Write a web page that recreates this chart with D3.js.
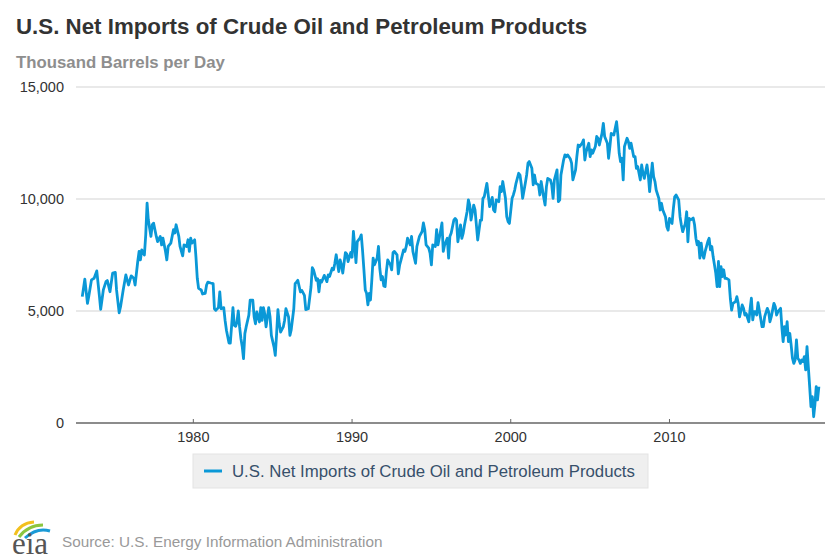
<!DOCTYPE html>
<html>
<head>
<meta charset="utf-8">
<script src="https://cdn.jsdelivr.net/npm/d3@7"></script>
<style>
  body { margin: 0; background: #fff; }
  svg { display: block; font-family: "Liberation Sans", Arial, Helvetica, sans-serif; }
</style>
</head>
<body>
<div id="chart"></div>
<script>
const chartTitle = "U.S. Net Imports of Crude Oil and Petroleum Products";
const unitsLabel = "Thousand Barrels per Day";
const seriesName = "U.S. Net Imports of Crude Oil and Petroleum Products";
const sourceText = "Source: U.S. Energy Information Administration";

const yTicks = [0, 5000, 10000, 15000];
const xTickYears = [1980, 1990, 2000, 2010];

// months counted from January 1973
const startYear = 1973;
const monthOffset = [
  0, 2, 4, 5, 7, 9, 11,
  13, 14, 16, 18, 19, 21, 23,
  25, 26, 28, 29, 31, 33, 35,
  37, 39, 40, 42, 43, 44, 45, 47,
  48, 49, 50, 52, 53, 54, 56, 57, 59,
  60, 61, 63, 64, 65, 67, 69, 70, 71,
  73, 74, 76, 77, 79, 80, 81, 82, 83,
  85, 86, 87, 88, 90, 91, 93, 94, 95,
  97, 99, 100, 101, 103, 104, 105, 107,
  108, 109, 111, 112, 113, 114, 115, 116, 117, 118, 119,
  120, 121, 122, 123, 124, 126, 127, 129, 130, 131,
  132, 134, 135, 136, 137, 138, 139, 141, 142, 143,
  145, 146, 147, 148, 149, 150, 152, 153, 154,
  156, 157, 158, 160, 161, 162, 163, 165, 166,
  168, 169, 171, 173, 174, 175, 177, 178, 179,
  180, 181, 183, 184, 185, 186, 187, 189, 190, 191,
  192, 194, 195, 196, 197, 199, 200, 201, 203,
  204, 205, 206, 207, 208, 210, 211, 212, 213, 214, 215,
  216, 217, 218, 219, 220, 221, 223, 224, 225, 226, 227,
  228, 229, 230, 231, 233, 234, 235, 236, 238, 239,
  240, 241, 243, 244, 245, 246, 248, 249, 250,
  252, 253, 254, 255, 257, 258, 259, 260, 262, 263,
  264, 265, 267, 268, 269, 270, 272, 273, 274,
  276, 277, 278, 279, 281, 282, 283, 284, 286, 287,
  288, 289, 291, 292, 293, 294, 296, 297, 298, 299,
  301, 302, 303, 304, 306, 307, 308, 310, 311,
  312, 313, 315, 316, 317, 318, 320, 321, 322, 323,
  325, 326, 327, 328, 330, 331, 332, 333, 335,
  336, 337, 338, 340, 341, 342, 343, 345, 346, 347,
  349, 350, 351, 352, 354, 355, 356, 357, 359,
  360, 361, 362, 364, 365, 366, 367, 369, 370, 371,
  373, 374, 375, 376, 378, 379, 380, 381, 383,
  384, 385, 386, 388, 389, 390, 391, 393, 394, 395,
  397, 398, 399, 400, 402, 403, 404, 405, 406, 407,
  408, 409, 410, 412, 413, 414, 415, 417, 418, 419,
  420, 422, 423, 424, 425, 427, 428, 429, 431,
  432, 433, 434, 436, 437, 438, 439, 441, 442, 443,
  444, 446, 447, 448, 449, 451, 452, 453, 454,
  456, 457, 458, 459, 460, 461, 462, 463, 464, 465, 466, 467,
  468, 469, 470, 471, 473, 474, 475, 476, 477, 478, 479,
  480, 481, 482, 483, 484, 485, 486, 487, 489, 490, 491,
  492, 494, 495, 496, 497, 499, 500, 501, 502, 504, 505, 506, 507, 508,
  509, 510, 511, 513, 514, 515, 516, 518, 519,
  520, 521, 523, 524, 525, 526, 528, 529, 530, 531,
  532, 533, 534, 535, 536, 537, 538, 539, 540, 541, 542, 543,
  544, 545, 546, 547, 548, 549, 550, 551, 552, 553, 554, 555, 556, 557
];
const netImports = [
  5640, 6420, 5340, 5670, 6390, 6460, 6790,
  5640, 5070, 5940, 6310, 6360, 5860, 6690,
  6720, 5940, 4920, 5190, 5940, 6610, 6160,
  6570, 6460, 6160, 7210, 7660, 7280, 7730, 7500,
  8400, 9820, 9070, 8330, 8850, 8920, 8330, 8100, 8330,
  7950, 8250, 7660, 7280, 7880, 8030, 8630, 8480, 8850,
  8330, 7880, 7460, 7950, 7880, 8180, 7660, 8250, 8030,
  8180, 7430, 6460, 6010, 5940, 5760, 5790, 6160, 6290,
  6250, 6220, 5100, 5030, 5150, 5850, 5100, 5150,
  4580, 4140, 3570, 3570, 4360, 5150, 4360, 4320, 4510, 5000, 4290,
  3760, 3390, 2870, 3990, 4290, 4810, 5480, 5480, 4730, 4430,
  4960, 4510, 5150, 4580, 5150, 4880, 4290, 5150, 4730, 3910,
  3390, 3020, 3990, 5060, 4430, 4060, 4290, 4580, 5100,
  4730, 3910, 4140, 5100, 6220, 6290, 6370, 5850, 5920,
  5700, 5060, 5100, 6070, 6930, 6820, 6370, 6440, 5850,
  6370, 6290, 6590, 6460, 6310, 6610, 6540, 6910, 6840, 7130,
  7510, 6760, 7280, 7060, 6690, 7610, 7550, 7210, 7610,
  7400, 8550, 7950, 7160, 8100, 8250, 8400, 7660, 6840, 5940, 5790,
  5270, 5790, 5490, 6390, 7360, 7060, 7360, 7880, 6910, 6390, 6540,
  6120, 6090, 6760, 7280, 7060, 6840, 7610, 7660, 7510, 6660,
  7060, 7280, 7730, 7660, 7880, 8250, 7950, 8330, 7660,
  7130, 7880, 8100, 8330, 8550, 8930, 8630, 7950, 7810, 7580,
  7060, 7950, 7880, 8630, 7950, 8250, 8930, 7660, 7950,
  8250, 7360, 8330, 8480, 9060, 9130, 9060, 8090, 8840, 8240,
  8460, 8840, 9430, 9960, 9730, 9060, 9730, 9510, 8840, 8170,
  9060, 9060, 10030, 10100, 10700, 10180, 9660, 10070, 9510,
  9430, 9960, 9880, 10550, 10330, 10780, 10030, 9210, 8990, 8910,
  10030, 10180, 10400, 10700, 11150, 11070, 10630, 10030, 10700,
  11070, 11600, 11670, 11370, 10630, 11070, 10700, 10630, 10180, 10780,
  10030, 9730, 10550, 10920, 10850, 10630, 10030, 10850, 11300,
  9880, 9960, 11070, 11740, 11970, 11890, 11970, 11800, 11600, 10850,
  11300, 11890, 12410, 12340, 12490, 12640, 11740, 12110, 12490,
  11890, 12190, 12040, 12340, 12790, 12710, 12410, 12930, 13380, 12790,
  12490, 11820, 12340, 12930, 12860, 13160, 13450, 12860, 12040, 11670,
  11820, 10850, 12340, 12710, 12560, 12260, 12490, 11890, 11890, 11370,
  11450, 10850, 11520, 11150, 10920, 11520, 11070, 10330, 11600,
  11000, 10780, 10400, 10030, 9510, 9810, 9510, 9210, 8760, 8610,
  9130, 8910, 9580, 10100, 10180, 9960, 9210, 8840, 8540,
  8910, 9430, 8090, 9130, 9070, 9100, 9150, 8850, 8250, 7950, 8100, 7360,
  8030, 7510, 7360, 7660, 8100, 8250, 7730, 7880, 7430, 7060, 6690,
  6090, 7210, 6090, 6980, 6540, 6840, 6460, 6460, 6390, 5570, 5040,
  5340, 5420, 5640, 5340, 4740, 5270, 5120, 4820, 4890, 4520, 5120, 5570, 4600, 4970,
  4970, 4820, 5370, 4670, 4300, 4300, 4750, 5120, 4970,
  4520, 4750, 5340, 5190, 4820, 4970, 5120, 4230, 3630, 4300,
  3930, 4520, 3630, 4000, 3480, 2890, 2660, 2810, 3710, 2890, 2810, 2660,
  2810, 2740, 2960, 2370, 3410, 2520, 1620, 730, 1180, 280, 800, 1620, 1030, 1620
];

const width = 840, height = 560;
const plot = { left: 76, right: 825, top: 87, bottom: 423 };
const lineColor = "#0a98d7";

const data = monthOffset.map((m, i) => ({ date: new Date(startYear, m, 1), value: netImports[i] }));

const svg = d3.select("#chart").append("svg")
  .attr("width", width)
  .attr("height", height);

const x = d3.scaleTime()
  .domain([new Date(1972, 7, 10), new Date(2019, 9, 20)])
  .range([plot.left, plot.right]);

const y = d3.scaleLinear()
  .domain([0, 15000])
  .range([plot.bottom, plot.top]);

// titles
svg.append("text")
  .attr("x", 16).attr("y", 34)
  .style("font-size", "22.3px").style("font-weight", "bold")
  .style("fill", "#333")
  .text(chartTitle);

svg.append("text")
  .attr("x", 16).attr("y", 68)
  .style("font-size", "16.8px").style("font-weight", "bold")
  .style("fill", "#8e8e8e")
  .text(unitsLabel);

// gridlines + y labels
const yAxis = svg.append("g").attr("class", "y-axis");
yAxis.selectAll("line")
  .data(yTicks.filter(d => d > 0))
  .join("line")
  .attr("x1", plot.left).attr("x2", plot.right)
  .attr("y1", d => y(d)).attr("y2", d => y(d))
  .style("stroke", "#d3d3d3").style("stroke-width", 1.2);

yAxis.selectAll("text")
  .data(yTicks)
  .join("text")
  .attr("x", 64)
  .attr("y", d => y(d))
  .attr("dy", "0.36em")
  .attr("text-anchor", "end")
  .style("font-size", "14.5px")
  .style("fill", "#333")
  .text(d3.format(","));

// x axis
const xAxis = svg.append("g").attr("class", "x-axis");
xAxis.append("line")
  .attr("x1", plot.left).attr("x2", plot.right)
  .attr("y1", y(0)).attr("y2", y(0))
  .style("stroke", "#666").style("stroke-width", 1.6);

const xTicks = xTickYears.map(yr => new Date(yr, 0, 1));
xAxis.selectAll(".tick")
  .data(xTicks)
  .join("line")
  .attr("class", "tick")
  .attr("x1", d => x(d)).attr("x2", d => x(d))
  .attr("y1", y(0) - 4).attr("y2", y(0))
  .style("stroke", "#666").style("stroke-width", 1);

xAxis.selectAll("text")
  .data(xTicks)
  .join("text")
  .attr("x", d => x(d))
  .attr("y", 442)
  .attr("text-anchor", "middle")
  .style("font-size", "14.5px")
  .style("fill", "#333")
  .text(d3.timeFormat("%Y"));

// series
const line = d3.line()
  .x(d => x(d.date))
  .y(d => y(d.value));

svg.append("path")
  .datum(data)
  .attr("d", line)
  .style("fill", "none")
  .style("stroke", lineColor)
  .style("stroke-width", 2.8)
  .style("stroke-linejoin", "round");

// legend
const legend = svg.append("g").attr("class", "legend");
legend.append("rect")
  .attr("x", 193).attr("y", 454)
  .attr("width", 455).attr("height", 34)
  .style("fill", "#efefef").style("stroke", "#e3e3e3");
legend.append("line")
  .attr("x1", 204).attr("x2", 222)
  .attr("y1", 471).attr("y2", 471)
  .style("stroke", lineColor).style("stroke-width", 3);
legend.append("text")
  .attr("x", 232).attr("y", 477)
  .style("font-size", "16.8px")
  .style("fill", "#37506b")
  .text(seriesName);

// source + eia mark
const footer = svg.append("g").attr("class", "footer");
footer.append("path")
  .attr("d", "M15,535 Q20,523 34,522")
  .style("fill", "none").style("stroke", "#f2c01e").style("stroke-width", 3);
footer.append("path")
  .attr("d", "M19,537 Q28,525 43,525")
  .style("fill", "none").style("stroke", "#8cc63f").style("stroke-width", 3);
footer.append("path")
  .attr("d", "M25,538 Q37,527 50,531")
  .style("fill", "none").style("stroke", "#1a9ad6").style("stroke-width", 3);
footer.append("text")
  .attr("x", 12).attr("y", 554)
  .style("font-family", "'Liberation Serif', 'DejaVu Serif', serif")
  .style("font-size", "31px")
  .style("fill", "#555")
  .text("eia");
footer.append("text")
  .attr("x", 62).attr("y", 547)
  .style("font-size", "15.3px")
  .style("fill", "#999")
  .text(sourceText);
</script>
</body>
</html>
